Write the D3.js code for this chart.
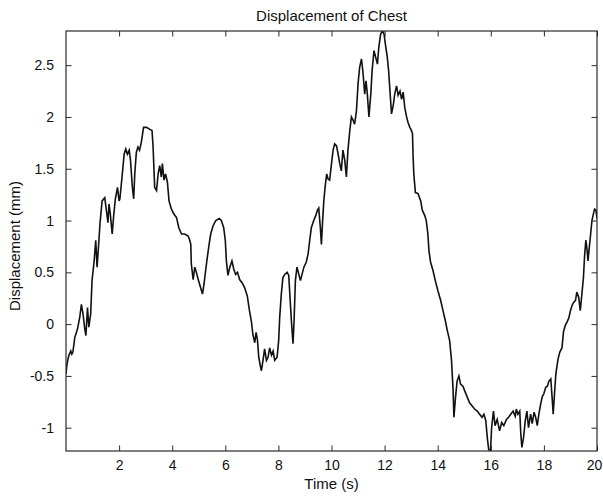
<!DOCTYPE html>
<html>
<head>
<meta charset="utf-8">
<script src="https://cdn.jsdelivr.net/npm/d3@7"></script>
<style>
  html, body { margin: 0; padding: 0; background: #fff; }
  svg { display: block; }
  text { font-family: "Liberation Sans", Arial, Helvetica, sans-serif; fill: #111; }
</style>
</head>
<body>
<svg id="chart" width="603" height="497"></svg>
<script>
// Chest displacement trace, sampled along the recording
const timeSec = [
  0.00, 0.03, 0.08, 0.11, 0.18, 0.22, 0.26, 0.33, 0.43, 0.52, 0.58, 0.64, 0.71, 0.75, 0.81, 0.86, 0.93, 0.98,
  1.06, 1.12, 1.17, 1.23, 1.28, 1.36, 1.46, 1.52, 1.58, 1.62, 1.67, 1.74, 1.80, 1.86, 1.94,
  2.00, 2.03, 2.11, 2.19, 2.25, 2.31, 2.38, 2.43, 2.50, 2.55, 2.59, 2.65, 2.71, 2.77, 2.84, 2.92,
  3.03, 3.16, 3.24, 3.28, 3.34, 3.41, 3.47, 3.53, 3.59, 3.63, 3.69, 3.75, 3.82, 3.88, 3.97,
  4.07, 4.16, 4.25, 4.35, 4.47, 4.60, 4.66, 4.70, 4.72, 4.79, 4.85, 4.91, 4.98,
  5.06, 5.14, 5.20, 5.26, 5.32, 5.39, 5.45, 5.54, 5.64, 5.77, 5.85, 5.94,
  6.00, 6.04, 6.10, 6.17, 6.25, 6.32, 6.39, 6.46, 6.54, 6.63, 6.73, 6.83, 6.91, 6.98,
  7.04, 7.11, 7.16, 7.21, 7.26, 7.31, 7.36, 7.42, 7.48, 7.55, 7.61, 7.67, 7.74, 7.80, 7.86, 7.95,
  8.01, 8.05, 8.11, 8.17, 8.24, 8.33, 8.39, 8.43, 8.49, 8.55, 8.59, 8.64, 8.70, 8.77, 8.83, 8.89, 8.96,
  9.05, 9.12, 9.18, 9.24, 9.33, 9.41, 9.47, 9.52, 9.58, 9.62, 9.66, 9.71, 9.77, 9.82, 9.87, 9.93,
  10.00, 10.06, 10.12, 10.19, 10.25, 10.31, 10.37, 10.43, 10.50, 10.56, 10.62, 10.69, 10.75, 10.81, 10.87, 10.94,
  11.00, 11.06, 11.13, 11.19, 11.25, 11.30, 11.35, 11.41, 11.48, 11.53, 11.60, 11.66, 11.73, 11.78, 11.85, 11.92, 11.98,
  12.03, 12.10, 12.15, 12.20, 12.26, 12.33, 12.38, 12.45, 12.51, 12.58, 12.64, 12.70, 12.76, 12.82, 12.88, 12.95,
  13.01, 13.05, 13.07, 13.10, 13.16, 13.26, 13.36, 13.42, 13.51, 13.57, 13.63, 13.67, 13.73, 13.82, 13.91,
  14.01, 14.11, 14.20, 14.29, 14.36, 14.45, 14.52, 14.58, 14.61, 14.67, 14.73, 14.80, 14.86, 14.95,
  15.01, 15.12, 15.20, 15.30, 15.39, 15.49, 15.58, 15.67, 15.74, 15.81, 15.87, 15.92, 15.99,
  16.03, 16.10, 16.16, 16.24, 16.33, 16.41, 16.49, 16.59, 16.67, 16.75, 16.84, 16.92, 16.96,
  17.02, 17.09, 17.13, 17.17, 17.23, 17.30, 17.36, 17.42, 17.50, 17.56, 17.63, 17.69, 17.75, 17.81, 17.88, 17.94,
  18.00, 18.07, 18.13, 18.19, 18.26, 18.31, 18.35, 18.40, 18.45, 18.53, 18.60, 18.68, 18.74, 18.81, 18.87, 18.94,
  19.00, 19.06, 19.12, 19.19, 19.24, 19.31, 19.37, 19.43, 19.49, 19.53, 19.58, 19.63, 19.66, 19.71, 19.76, 19.81, 19.86, 19.91, 19.96,
  20.00
];
const displacementMm = [
  -0.48, -0.40, -0.33, -0.30, -0.26, -0.29, -0.27, -0.13, -0.05, 0.07, 0.19, 0.10, -0.05, -0.11, 0.16, -0.03, 0.10, 0.42,
  0.61, 0.81, 0.55, 0.77, 0.97, 1.19, 1.22, 1.10, 0.98, 1.16, 1.06, 0.87, 1.06, 1.21, 1.32,
  1.19, 1.21, 1.42, 1.64, 1.69, 1.64, 1.68, 1.58, 1.32, 1.21, 1.45, 1.66, 1.71, 1.68, 1.76, 1.90,
  1.90, 1.88, 1.87, 1.71, 1.32, 1.29, 1.45, 1.53, 1.42, 1.55, 1.39, 1.45, 1.37, 1.19, 1.11,
  1.06, 1.03, 0.93, 0.87, 0.87, 0.85, 0.81, 0.77, 0.58, 0.43, 0.55, 0.50, 0.43,
  0.36, 0.29, 0.39, 0.52, 0.64, 0.77, 0.87, 0.95, 1.00, 1.02, 1.00, 0.93,
  0.81, 0.61, 0.47, 0.55, 0.61, 0.53, 0.48, 0.50, 0.43, 0.40, 0.35, 0.27, 0.13, 0.03,
  -0.10, -0.18, -0.08, -0.15, -0.32, -0.39, -0.45, -0.35, -0.24, -0.35, -0.32, -0.23, -0.30, -0.26, -0.35, -0.32,
  -0.16, 0.07, 0.29, 0.45, 0.48, 0.50, 0.47, 0.29, 0.03, -0.19, 0.03, 0.42, 0.55, 0.48, 0.42, 0.48, 0.55,
  0.60, 0.68, 0.81, 0.93, 1.00, 1.05, 1.10, 1.12, 0.93, 0.77, 0.97, 1.19, 1.35, 1.45, 1.40, 1.39,
  1.55, 1.68, 1.74, 1.72, 1.64, 1.55, 1.48, 1.68, 1.58, 1.42, 1.68, 1.87, 2.00, 1.97, 1.93, 2.06,
  2.32, 2.48, 2.56, 2.42, 2.22, 2.35, 2.22, 2.00, 2.22, 2.45, 2.64, 2.58, 2.51, 2.67, 2.80, 2.83, 2.80,
  2.70, 2.58, 2.45, 2.26, 2.03, 2.12, 2.22, 2.30, 2.21, 2.25, 2.17, 2.24, 2.09, 2.01, 1.95, 1.90,
  1.87, 1.84, 1.64, 1.45, 1.27, 1.26, 1.19, 1.10, 1.05, 1.00, 0.87, 0.71, 0.60, 0.52, 0.42,
  0.32, 0.23, 0.13, 0.03, -0.06, -0.16, -0.35, -0.64, -0.90, -0.71, -0.55, -0.50, -0.58, -0.60,
  -0.64, -0.71, -0.76, -0.79, -0.82, -0.84, -0.87, -0.90, -0.87, -0.93, -1.10, -1.21, -1.22,
  -1.00, -0.84, -0.98, -0.92, -1.03, -0.95, -0.98, -0.92, -0.90, -0.87, -0.84, -0.89, -0.82,
  -0.87, -0.84, -1.06, -1.19, -1.10, -0.93, -0.84, -1.00, -0.87, -0.96, -0.85, -0.90, -0.98, -0.87, -0.77, -0.70,
  -0.67, -0.61, -0.60, -0.55, -0.53, -0.71, -0.87, -0.67, -0.48, -0.34, -0.27, -0.23, -0.07, -0.01, 0.02, 0.06,
  0.13, 0.18, 0.21, 0.23, 0.31, 0.26, 0.13, 0.29, 0.45, 0.65, 0.81, 0.71, 0.61, 0.74, 0.87, 1.00, 1.06, 1.11, 1.10,
  1.02
];
const xTickValues = [2, 4, 6, 8, 10, 12, 14, 16, 18, 20];
const yTickValues = [-1, -0.5, 0, 0.5, 1, 1.5, 2, 2.5];
const xDomain = [0, 20];
const yDomain = [-1.225, 2.83];

const W = 603, H = 497;
const margin = { top: 31, right: 6, bottom: 46, left: 66 };
const iw = W - margin.left - margin.right;
const ih = H - margin.top - margin.bottom;

const svg = d3.select("#chart");
svg.append("rect").attr("width", W).attr("height", H).attr("fill", "#fff");

const g = svg.append("g").attr("transform", `translate(${margin.left},${margin.top})`);

const x = d3.scaleLinear().domain(xDomain).range([0, iw]);
const y = d3.scaleLinear().domain(yDomain).range([ih, 0]);

const data = timeSec.map((t, i) => ({ t, v: displacementMm[i] }));

g.append("clipPath").attr("id", "plotClip")
  .append("rect").attr("x", 0).attr("y", 0).attr("width", iw).attr("height", ih);

// Signal trace
g.append("path")
  .datum(data)
  .attr("clip-path", "url(#plotClip)")
  .attr("fill", "none")
  .attr("stroke", "#111")
  .attr("stroke-width", 1.6)
  .attr("stroke-linejoin", "miter")
  .attr("d", d3.line().x(d => x(d.t)).y(d => y(d.v)));

const tickLen = 5.5;
const fmt = d => String(d);

function styleAxis(sel) {
  sel.select(".domain").remove();
  sel.selectAll(".tick line").attr("stroke", "#2a2a2a").attr("stroke-width", 1);
  sel.selectAll(".tick text").attr("font-size", 14).attr("fill", "#111")
    .attr("font-family", '"Liberation Sans", Arial, sans-serif');
}

// Bottom axis with labels, inward ticks
const bottomAxis = g.append("g").attr("transform", `translate(0,${ih})`)
  .call(d3.axisBottom(x).tickValues(xTickValues).tickFormat(fmt).tickSizeInner(-tickLen).tickSizeOuter(0).tickPadding(9))
  .call(styleAxis);
// keep the last label inside the canvas edge
bottomAxis.selectAll(".tick text").filter(d => d === xDomain[1]).attr("dx", -3);

// Top axis, ticks only
g.append("g")
  .call(d3.axisTop(x).tickValues(xTickValues).tickFormat("").tickSizeInner(-tickLen).tickSizeOuter(0))
  .call(styleAxis);

// Left axis with labels
g.append("g")
  .call(d3.axisLeft(y).tickValues(yTickValues).tickFormat(fmt).tickSizeInner(-tickLen).tickSizeOuter(0).tickPadding(12))
  .call(styleAxis);

// Right axis, ticks only
g.append("g").attr("transform", `translate(${iw},0)`)
  .call(d3.axisRight(y).tickValues(yTickValues).tickFormat("").tickSizeInner(-tickLen).tickSizeOuter(0))
  .call(styleAxis);

// Axes box
g.append("rect")
  .attr("x", 0).attr("y", 0).attr("width", iw).attr("height", ih)
  .attr("fill", "none").attr("stroke", "#2a2a2a").attr("stroke-width", 1.2);

// Title and axis labels
svg.append("text")
  .attr("x", margin.left + iw / 2).attr("y", 21)
  .attr("text-anchor", "middle").attr("font-size", 15)
  .text("Displacement of Chest");

svg.append("text")
  .attr("x", margin.left + iw / 2).attr("y", 489)
  .attr("text-anchor", "middle").attr("font-size", 15)
  .text("Time (s)");

svg.append("text")
  .attr("transform", `translate(20,${margin.top + ih / 2 + 5}) rotate(-90)`)
  .attr("text-anchor", "middle").attr("font-size", 15)
  .text("Displacement (mm)");
</script>
</body>
</html>
